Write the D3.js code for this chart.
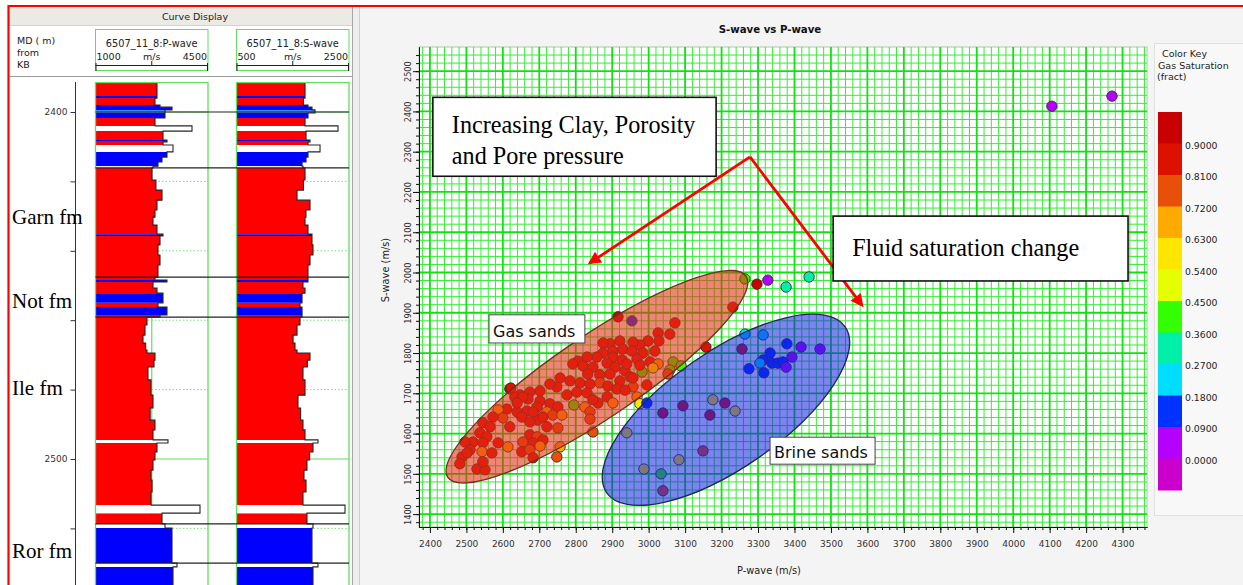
<!DOCTYPE html>
<html><head><meta charset="utf-8">
<script src="https://cdn.jsdelivr.net/npm/d3@7/dist/d3.min.js"></script>
<style>
html,body{margin:0;padding:0;background:#fff;}
svg{display:block;}
</style></head><body>
<svg width="1243" height="585" font-family="DejaVu Sans, Verdana, sans-serif"></svg>
<script>
// ================= DATA =================
// Cross-plot axes
const xTickValues=[2400,2500,2600,2700,2800,2900,3000,3100,3200,3300,3400,3500,3600,3700,3800,3900,4000,4100,4200,4300];
const yTickValues=[1400,1500,1600,1700,1800,1900,2000,2100,2200,2300,2400,2500];
const chartTitle="S-wave vs P-wave";
const xTitle="P-wave (m/s)", yTitle="S-wave (m/s)";
// Colour key (gas saturation, fraction) – thresholds and colours low → high
const keyThresholds=[0.0000,0.0900,0.1800,0.2700,0.3600,0.4500,0.5400,0.6300,0.7200,0.8100,0.9000];
const keyColors=["#cc00cc","#b400ff","#0032ff","#00ddff","#00f0aa","#33ff00","#e6ff00","#ffe600","#ffaa00","#e8500a","#dd1100","#c80000"];
const keyTitle=["Color Key","Gas Saturation","(fract)"];
// Cross-plot points: P-wave (m/s), S-wave (m/s), gas saturation
const pointP=[2916,2954,3072,3058,3026,3028,2998,2976,2957,2921,
2894,2875,2875,2902,2929,2954,2984,3017,2902,2858,
2831,2806,2886,2927,2968,3004,2792,2820,2847,2908,
2935,2894,2866,2833,3067,3089,3026,2982,3012,3058,
3053,2757,2784,2812,2839,2866,2888,2921,2949,2913,
2957,2995,2968,2976,2748,2729,2702,2674,2647,2619,
2633,2669,2702,2729,2694,2666,2639,2611,2721,2751,
2737,2795,2825,2839,2839,2861,2886,2902,2847,2762,
2751,2721,2696,2652,2674,2619,2587,2600,2573,2545,
2565,2537,2556,2518,2545,2496,2510,2674,2694,2655,
2683,2710,2702,2652,2674,2614,2587,2543,2570,2757,
2748,2683,2488,2482,2529,2551,2545,2502,2622,2655,
2639,2683,2710,2776,2803,2831,2847,2935,2957,2976,
2940,3231,3157,2995,
3264,3297,3327,3377,3440,4106,4271,
3264,3314,3256,3379,3418,3470,3393,3333,3314,3338,
3355,3368,3305,3275,3316,3377,3176,3209,3237,3094,
3039,3168,2940,3149,3083,2987,3034,3039];
const pointS=[1890,1880,1875,1847,1850,1830,1830,1820,1827,1830,
1823,1825,1800,1805,1810,1805,1800,1805,1790,1790,
1790,1780,1775,1783,1785,1778,1773,1768,1765,1765,
1756,1748,1746,1748,1778,1768,1773,1753,1763,1758,
1748,1738,1731,1726,1723,1726,1718,1731,1741,1711,
1716,1721,1691,1674,1716,1723,1706,1703,1696,1711,
1691,1686,1681,1674,1666,1656,1654,1661,1654,1666,
1646,1671,1666,1654,1636,1676,1691,1676,1604,1646,
1614,1617,1634,1641,1629,1617,1659,1639,1641,1627,
1617,1602,1592,1579,1577,1579,1560,1597,1592,1579,
1577,1584,1569,1555,1560,1567,1577,1555,1552,1567,
1542,1540,1542,1525,1512,1510,1530,1552,1713,1691,
1676,1654,1641,1696,1703,1701,1684,1708,1738,1770,
1773,1914,1815,1676,
1984,1971,1981,1964,1989,2413,2438,
1847,1845,1810,1823,1815,1810,1790,1800,1783,1775,
1775,1778,1775,1761,1751,1765,1684,1676,1656,1669,
1651,1646,1602,1557,1535,1512,1500,1458];
const pointSg=[.95,.12,.85,.85,.85,.85,.85,.85,.85,.85,
.85,.85,.85,.85,.85,.85,.85,.85,.85,.85,
.85,.85,.85,.85,.85,.85,.85,.85,.85,.85,
.85,.85,.85,.85,.40,.42,.66,.40,.46,.40,
.75,.85,.85,.85,.85,.75,.85,.85,.85,.85,
.75,.85,.66,.62,.85,.85,.85,.85,.85,.85,
.85,.85,.85,.85,.85,.85,.85,.85,.66,.85,
.75,.42,.68,.75,.74,.85,.85,.66,.75,.67,
.75,.85,.85,.85,.85,.85,.66,.75,.85,.85,
.85,.85,.85,.85,.85,.85,.85,.85,.76,.75,
.85,.85,.67,.85,.76,.66,.85,.66,.85,.68,
.75,.85,.85,.85,.85,.85,.85,.85,.85,.85,
.85,.85,.85,.85,.85,.85,.85,.85,.85,.85,
.85,.85,.85,.10,
.40,.95,.05,.30,.30,.05,.05,
.22,.22,.85,.12,.05,.05,.05,.12,.12,.13,
.12,.14,.21,.12,.12,.05,.58,.85,.58,.85,
.85,.82,.58,.80,.58,.58,.38,.80];
// Ellipses (data units): centre, end of major half-axis, end of minor half-axis
const ellipseName=["Gas sands","Brine sands"];
const ellipseFill=["rgb(230,43,22)","rgb(20,30,230)"];
const ellipseStroke=["#6e3020","#23235a"];
const ellipseCenterP=[2858,3212], ellipseCenterS=[1741,1659];
const ellipseMajorP=[3267,3539], ellipseMajorS=[1991,1865];
const ellipseMinorP=[2921,3303], ellipseMinorS=[1656,1541];
// Ellipse labels: box corners (data units)
const labelP0=[2562,3333], labelP1=[2825,3621], labelS0=[1895,1591], labelS1=[1825,1524];
// Annotations
const noteLines=[["Increasing Clay, Porosity","and Pore pressure"],["Fluid saturation change"]];
const noteP0=[2408,3506], noteP1=[3185,4315], noteS0=[2435,2140], noteS1=[2239,1979];
const arrowFromP=[3278,3278], arrowFromS=[2287,2287];
const arrowToP=[2839,3585], arrowToS=[2024,1919];

// Well-log panel
const logTop=[2391.0,2395.4,2396.0,2398.0,2398.6,2399.4,2400.3,2401.7,2404.0,2405.5,
2408.1,2408.6,2409.5,2411.5,2413.0,2414.4,2415.6,2416.1,2419.6,2422.5,
2425.4,2428.2,2430.3,2432.6,2435.2,2435.7,2438.3,2441.2,2444.1,2447.6,
2448.4,2449.0,2450.7,2452.2,2455.0,2456.2,2458.5,2459.1,2461.4,2464.3,
2466.6,2468.6,2469.5,2471.5,2473.5,2477.2,2481.6,2485.3,2488.8,2491.6,
2494.5,2495.4,2498.0,2500.3,2503.2,2506.1,2509.5,2513.3,2515.6,2518.7,
2519.9,2530.0,2531.1];
const logBottom=2537;
const logClass=["g","b","g","b","b","c","b","g","n","g",
"b","g","n","b","b","b","n","g","g","g",
"g","g","g","g","b","g","g","g","g","g",
"b","g","g","b","g","b","g","g","g","g",
"g","g","g","g","g","g","g","g","g","g",
"n","g","g","g","g","g","g","n","g","n",
"b","n","b"];
const logP=[2913,2913,2851,3007,3380,3162,3162,2851,4002,3100,
3224,3100,3411,3224,3069,2944,2789,2758,2880,3069,
2913,2851,2789,2913,3100,3007,2944,3007,2944,2851,
3224,2789,2913,3100,2944,3224,3007,2602,2540,2478,
2560,2602,2851,2820,2633,2727,2789,2700,2851,2789,
3255,2913,2851,2789,2727,2760,2727,4251,3069,3162,
3380,3535,3411];
const logS=[1718,1718,1690,1771,1842,1896,1771,1718,2305,1736,
1807,1771,1985,1771,1736,1665,1682,1718,1690,1576,
1807,1735,1718,1771,1842,1842,1860,1807,1771,1771,
1771,1682,1718,1665,1629,1665,1665,1629,1576,1505,
1540,1576,1807,1760,1682,1718,1593,1640,1682,1718,
1949,1860,1800,1753,1700,1736,1682,2429,1753,1860,
1842,1949,1860];
const formationTops=[2400,2416.1,2447.6,2459.1,2518.7,2530.0];
const formationNames=["Garn fm","Not fm","Ile fm","Ror fm"];
const formationLabelDepth=[2430.3,2454.3,2479.4,2526.4];
const depthTicks=[2400,2420,2440,2460,2480,2500,2520];
const trackNames=["6507_11_8:P-wave","6507_11_8:S-wave"];
const trackMin=[1000,500], trackMax=[4500,2500];
const trackUnit="m/s";
const depthHeader=["MD ( m)","from","KB"];
const panelTitle="Curve Display";

// ================= DRAWING =================
const W=1243,H=585;
const SERIF="Liberation Serif, Times New Roman, serif";
const SANS="DejaVu Sans, Verdana, sans-serif";
const svg=d3.select("svg");
const classColor={g:"#ff0000",b:"#0000ff",c:"#3a8cff",n:"#ffffff"};

// ---- backgrounds / frames
svg.append("rect").attr("width",W).attr("height",H).attr("fill","#ffffff");
svg.append("rect").attr("x",359).attr("y",7).attr("width",W-359).attr("height",H-7).attr("fill","#f4f4f4");
svg.append("rect").attr("x",352).attr("y",7).attr("width",7).attr("height",H-7).attr("fill","#eeeeee");
svg.append("line").attr("x1",352.5).attr("x2",352.5).attr("y1",7).attr("y2",H).attr("stroke","#a8a8a8");
svg.append("line").attr("x1",359.5).attr("x2",359.5).attr("y1",7).attr("y2",H).attr("stroke","#cfcfcf");
svg.append("rect").attr("x",9).attr("y",7).attr("width",343).attr("height",18).attr("fill","#ebeae4");
svg.append("line").attr("x1",9).attr("x2",352).attr("y1",25.5).attr("y2",25.5).attr("stroke","#d2d2d2");
svg.append("text").attr("x",195).attr("y",20).attr("text-anchor","middle").attr("font-size",9.5).attr("fill","#222").text(panelTitle);
svg.append("line").attr("x1",9).attr("x2",352).attr("y1",76.5).attr("y2",76.5).attr("stroke","#9c9c9c");
depthHeader.forEach((t,i)=>svg.append("text").attr("x",17).attr("y",43.5+i*12).attr("font-size",9.5).attr("fill","#222").text(t));

// ---- well-log panel
const dScale=d3.scaleLinear().domain([2400,2500]).range([112,459]);
const trackScales=[d3.scaleLinear().domain([trackMin[0],trackMax[0]]).range([95.5,208]),
                   d3.scaleLinear().domain([trackMin[1],trackMax[1]]).range([236.5,349])];
const trackValues=[logP,logS];
const defs=svg.append("defs");
defs.append("clipPath").attr("id","logclip").append("rect").attr("x",0).attr("y",82).attr("width",352).attr("height",H-82);
const green="#5ee05e";
const segs=logTop.map((t,i)=>({top:t,bot:i<logTop.length-1?logTop[i+1]:logBottom,cls:logClass[i],i}));

trackScales.forEach((sc,ti)=>{
  const [x0,x1]=sc.range(), xm=sc((trackMin[ti]+trackMax[ti])/2);
  // header
  svg.append("rect").attr("x",x0).attr("y",29.5).attr("width",x1-x0).attr("height",41).attr("fill","none").attr("stroke",green);
  svg.append("text").attr("x",xm).attr("y",46.5).attr("text-anchor","middle").attr("font-size",9.8).attr("fill","#222").text(trackNames[ti]);
  svg.append("text").attr("x",x0+1).attr("y",59.5).attr("font-size",9.5).attr("fill","#222").text(trackMin[ti]);
  svg.append("text").attr("x",xm).attr("y",59.5).attr("text-anchor","middle").attr("font-size",9.5).attr("fill","#222").text(trackUnit);
  svg.append("text").attr("x",x1-1).attr("y",59.5).attr("text-anchor","end").attr("font-size",9.5).attr("fill","#222").text(trackMax[ti]);
  svg.append("line").attr("x1",x0).attr("x2",x1).attr("y1",65.5).attr("y2",65.5).attr("stroke","#222");
  [x0+0.5,x1-0.5].forEach(x=>svg.append("line").attr("x1",x).attr("x2",x).attr("y1",63).attr("y2",71).attr("stroke","#222"));
  svg.append("line").attr("x1",xm).attr("x2",xm).attr("y1",61).attr("y2",66).attr("stroke","#222");

  const g=svg.append("g").attr("clip-path","url(#logclip)");
  g.append("rect").attr("x",x0).attr("y",82).attr("width",x1-x0).attr("height",H-82).attr("fill","#fff");
  // grid
  depthTicks.filter(d=>d%100!==0).forEach(d=>g.append("line").attr("x1",x0).attr("x2",x1).attr("y1",dScale(d)).attr("y2",dScale(d))
    .attr("stroke","#7ae07a").attr("stroke-dasharray","1.5,2"));
  depthTicks.filter(d=>d%100===0).forEach(d=>g.append("line").attr("x1",x0).attr("x2",x1).attr("y1",dScale(d)).attr("y2",dScale(d))
    .attr("stroke",green).attr("stroke-width",1.2));
  g.append("line").attr("x1",xm).attr("x2",xm).attr("y1",82).attr("y2",H).attr("stroke",green).attr("stroke-width",1.2);
  // fills: one path per lithology class (no seams between steps)
  Object.keys(classColor).forEach(c=>{
    const d=segs.filter(s=>s.cls===c).map(s=>{
      const xr=sc(trackValues[ti][s.i]), ya=dScale(s.top), yb=dScale(s.bot);
      return `M${x0},${ya}H${xr}V${yb}H${x0}Z`;
    }).join("");
    if(d) g.append("path").attr("d",d).attr("fill",classColor[c]);
  });
  // curve
  const pts=[];
  segs.forEach(d=>{pts.push([trackValues[ti][d.i],d.top]);pts.push([trackValues[ti][d.i],d.bot]);});
  g.append("path").attr("d",d3.line().x(p=>sc(p[0])).y(p=>dScale(p[1]))(pts)).attr("fill","none").attr("stroke","#262626").attr("stroke-width",1.1);
  g.append("rect").attr("x",x0).attr("y",82.5).attr("width",x1-x0).attr("height",H).attr("fill","none").attr("stroke",green).attr("stroke-width",1.3);
});
// formation tops
const lg=svg.append("g").attr("clip-path","url(#logclip)");
formationTops.forEach(d=>lg.append("line").attr("x1",95.5).attr("x2",349).attr("y1",dScale(d)).attr("y2",dScale(d)).attr("stroke","#222").attr("stroke-width",1.1));
// depth axis
const gd=svg.append("g").attr("transform","translate(75.5,0)");
gd.call(d3.axisLeft(dScale).tickValues(depthTicks).tickSize(5).tickSizeOuter(0).tickFormat(d=>d%100===0?d:""));
gd.select(".domain").remove();
gd.selectAll("line").attr("stroke","#333");
gd.selectAll("text").attr("font-family",SANS).attr("font-size",9).attr("fill","#333").attr("x",-8);
svg.append("line").attr("x1",75.5).attr("x2",75.5).attr("y1",82).attr("y2",H).attr("stroke","#333");
// formation names
formationNames.forEach((n,i)=>svg.append("text").attr("x",12).attr("y",dScale(formationLabelDepth[i])).attr("dy","0.34em")
  .attr("font-family",SERIF).attr("font-size",21).attr("fill","#000").text(n));

// ---- cross-plot
const xS=d3.scaleLinear().domain([2370,4367]).range([419,1147]);
const yS=d3.scaleLinear().domain([1368,2560]).range([527,47]);
const colorScale=d3.scaleThreshold().domain(keyThresholds).range(keyColors);

svg.append("text").attr("x",770).attr("y",33).attr("text-anchor","middle").attr("font-size",10.2).attr("font-weight","bold").attr("fill","#111").text(chartTitle);
svg.append("rect").attr("x",419).attr("y",47).attr("width",728).attr("height",480).attr("fill","#ffffff").attr("stroke","#a9c9a9");
defs.append("clipPath").attr("id","plotclip").append("rect").attr("x",419).attr("y",47).attr("width",728).attr("height",480);
const pg=svg.append("g").attr("clip-path","url(#plotclip)");
const xGrid=d3.range(2380,4367,20), yGrid=d3.range(1380,2560,20);
pg.selectAll("line.vx").data(xGrid.filter(v=>v%100!==0)).join("line").attr("class","vx").attr("x1",d=>xS(d)).attr("x2",d=>xS(d)).attr("y1",47).attr("y2",527).attr("stroke","#33ee33").attr("stroke-width",1);
pg.selectAll("line.hy").data(yGrid.filter(v=>v%100!==0)).join("line").attr("class","hy").attr("y1",d=>yS(d)).attr("y2",d=>yS(d)).attr("x1",419).attr("x2",1147).attr("stroke","#33ee33").attr("stroke-width",1);
pg.selectAll("line.vX").data(xGrid.filter(v=>v%100===0)).join("line").attr("class","vX").attr("x1",d=>xS(d)).attr("x2",d=>xS(d)).attr("y1",47).attr("y2",527).attr("stroke","#11e011").attr("stroke-width",1.8);
pg.selectAll("line.hY").data(yGrid.filter(v=>v%100===0)).join("line").attr("class","hY").attr("y1",d=>yS(d)).attr("y2",d=>yS(d)).attr("x1",419).attr("x2",1147).attr("stroke","#11e011").attr("stroke-width",1.8);

// points
const pts=pointP.map((p,i)=>({p,s:pointS[i],sg:pointSg[i]}));
pg.selectAll("circle.pt").data(pts).join("circle").attr("class","pt")
  .attr("cx",d=>xS(d.p)).attr("cy",d=>yS(d.s)).attr("r",5.2)
  .attr("fill",d=>colorScale(d.sg)).attr("stroke","#3a2a2a").attr("stroke-width",0.9);

// ellipses (semi-transparent, drawn over points)
ellipseName.forEach((n,i)=>{
  const cx=xS(ellipseCenterP[i]), cy=yS(ellipseCenterS[i]);
  const mx=xS(ellipseMajorP[i]), my=yS(ellipseMajorS[i]);
  const nx=xS(ellipseMinorP[i]), ny=yS(ellipseMinorS[i]);
  const a=Math.hypot(mx-cx,my-cy), b=Math.hypot(nx-cx,ny-cy);
  const ang=Math.atan2(my-cy,mx-cx)*180/Math.PI;
  pg.append("ellipse").attr("cx",0).attr("cy",0).attr("rx",a).attr("ry",b)
    .attr("transform",`translate(${cx},${cy}) rotate(${ang})`)
    .attr("fill",ellipseFill[i]).attr("fill-opacity",i===0?0.58:0.55)
    .attr("stroke",ellipseStroke[i]).attr("stroke-width",1.3);
});
// ellipse labels
ellipseName.forEach((n,i)=>{
  const x0=xS(labelP0[i]), x1=xS(labelP1[i]), y0=yS(labelS0[i]), y1=yS(labelS1[i]);
  svg.append("rect").attr("x",x0).attr("y",y0).attr("width",x1-x0).attr("height",y1-y0).attr("fill","#fff").attr("stroke","#444").attr("stroke-width",1);
  svg.append("text").attr("x",x0+4).attr("y",y1-6).attr("font-size",16).attr("fill","#111").text(n);
});

// axes
const gx=svg.append("g").attr("transform","translate(0,527)");
gx.call(d3.axisBottom(xS).tickValues(xGrid).tickSize(3).tickSizeOuter(0).tickFormat(""));
gx.call(g=>g.append("g").call(d3.axisBottom(xS).tickValues(xTickValues).tickSize(6).tickSizeOuter(0).tickFormat(d3.format("d"))));
gx.selectAll(".domain").attr("stroke","#111");
gx.selectAll("line").attr("stroke","#111");
gx.selectAll("text").attr("font-family",SANS).attr("font-size",9).attr("fill","#333").attr("y",14);
const gy=svg.append("g").attr("transform","translate(419,0)");
gy.call(d3.axisLeft(yS).tickValues(yGrid).tickSize(3).tickSizeOuter(0).tickFormat(""));
gy.call(g=>g.append("g").call(d3.axisLeft(yS).tickValues(yTickValues).tickSize(6).tickSizeOuter(0).tickFormat(d3.format("d"))));
gy.selectAll(".domain").attr("stroke","#111");
gy.selectAll("line").attr("stroke","#111");
gy.selectAll("text").attr("font-family",SANS).attr("font-size",8.2).attr("fill","#333")
  .attr("x",null).attr("dy",null).attr("text-anchor","middle").attr("transform","translate(-8,0) rotate(-90)");
svg.append("text").attr("x",769).attr("y",574).attr("text-anchor","middle").attr("font-size",9.8).attr("fill","#222").text(xTitle);
svg.append("text").attr("transform","translate(389,270) rotate(-90)").attr("text-anchor","middle").attr("font-size",9.8).attr("fill","#222").text(yTitle);

// annotation arrows
const marker=defs.append("marker").attr("id","ah").attr("viewBox","0 0 10 10").attr("refX",8).attr("refY",5)
  .attr("markerWidth",5.2).attr("markerHeight",4.6).attr("orient","auto");
marker.append("path").attr("d","M0,0L10,5L0,10z").attr("fill","#ff0000");
arrowFromP.forEach((p,i)=>svg.append("line").attr("x1",xS(p)).attr("y1",yS(arrowFromS[i])).attr("x2",xS(arrowToP[i])).attr("y2",yS(arrowToS[i]))
  .attr("stroke","#ff0000").attr("stroke-width",2.8).attr("marker-end","url(#ah)"));
// annotation boxes
noteLines.forEach((lines,i)=>{
  const x0=xS(noteP0[i]), x1=xS(noteP1[i]), y0=yS(noteS0[i]), y1=yS(noteS1[i]);
  svg.append("rect").attr("x",x0).attr("y",y0).attr("width",x1-x0).attr("height",y1-y0).attr("fill","#fff").attr("stroke","#111").attr("stroke-width",1.6);
  lines.forEach((t,j)=>svg.append("text").attr("x",x0+19).attr("y",y0+(lines.length>1?36+j*31:40))
    .attr("font-family",SERIF).attr("font-size",24.2).attr("fill","#000").text(t));
});

// colour key
svg.append("rect").attr("x",1154.5).attr("y",43.5).attr("width",95).attr("height",472).attr("fill","#f8f8f8").attr("stroke","#e0e0e0");
keyTitle.forEach((t,i)=>svg.append("text").attr("x",[1162,1158,1157][i]).attr("y",57+i*11.5).attr("font-size",9.5).attr("fill","#222").text(t));
const bandY=d3.scaleBand().domain(d3.range(keyColors.length)).range([112,490]);
const bandsTopDown=keyColors.slice().reverse();
svg.selectAll("rect.band").data(bandsTopDown).join("rect").attr("class","band")
  .attr("x",1158).attr("y",(d,i)=>bandY(i)).attr("width",24).attr("height",bandY.bandwidth()+0.5).attr("fill",d=>d);
const labelsTopDown=keyThresholds.slice().reverse();
svg.selectAll("text.klab").data(labelsTopDown).join("text").attr("class","klab")
  .attr("x",1185).attr("y",(d,i)=>bandY(i)+bandY.bandwidth()+2).attr("dy","0.35em")
  .attr("font-size",9.3).attr("fill","#222").text(d=>d.toFixed(4));

// red outer frame
svg.append("path").attr("d","M8.5,585V6H1243").attr("fill","none").attr("stroke","#ff0000").attr("stroke-width",2.2);
</script></body></html>
